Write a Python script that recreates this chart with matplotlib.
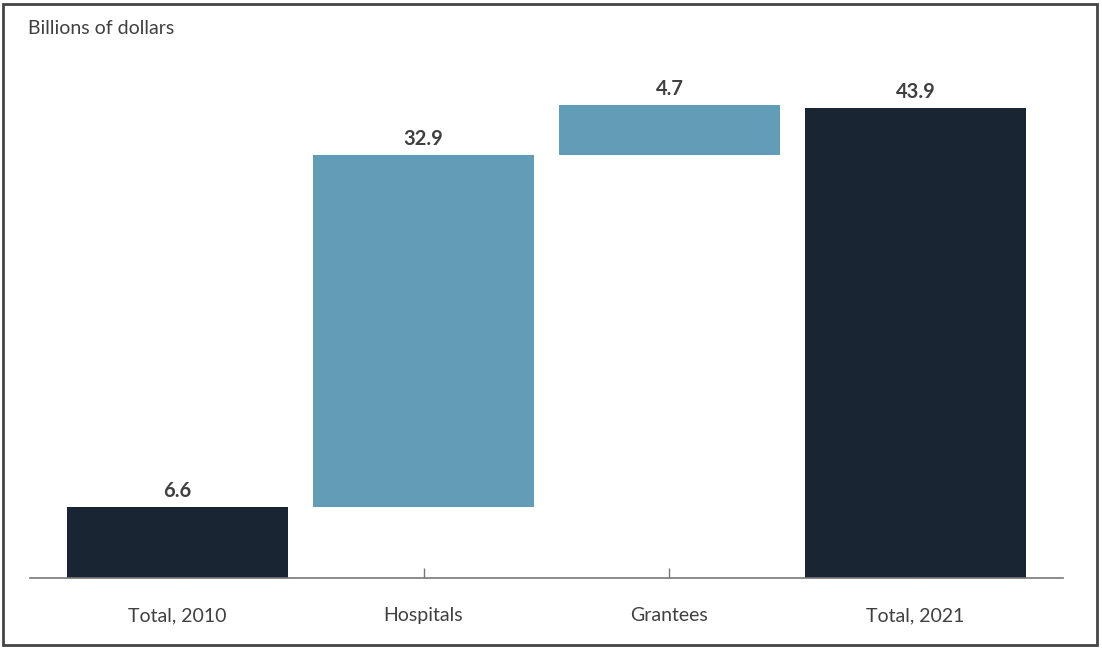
import matplotlib
matplotlib.use("Agg")
import matplotlib.pyplot as plt
from matplotlib.patches import Rectangle
import numpy as np

categories = ["Total, 2010", "Hospitals", "Grantees", "Total, 2021"]
values = [6.6, 32.9, 4.7, 43.9]
is_total = [True, False, False, True]
value_labels = ["6.6", "32.9", "4.7", "43.9"]

dark = "#1a2533"
blue = "#629db8"
text_col = "#404040"

plt.rcParams['font.family'] = ['Lato', 'DejaVu Sans']

fig = plt.figure(figsize=(11.02, 6.49), dpi=100)
ax = fig.add_axes([30/1102, 1-578/649, (1063-30)/1102, (578-60)/649])

bottoms = []
running = 0.0
for v, t in zip(values, is_total):
    if t:
        bottoms.append(0.0)
        running = v
    else:
        bottoms.append(running)
        running += v

x = np.arange(len(categories))
colors = [dark if t else blue for t in is_total]
ax.bar(x, values, bottom=bottoms, width=0.9, color=colors, zorder=3)

for xi, v, b, lab in zip(x, values, bottoms, value_labels):
    ax.text(xi, b + v + 0.6, lab, ha="center", va="bottom", fontsize=14.5,
            fontweight="bold", color=text_col)

ax.set_xlim(-0.6, 3.6)
ax.set_ylim(0, (578-60)/10.7)
ax.set_xticks(x)
ax.set_xticklabels(categories, fontsize=14, color=text_col)
ax.tick_params(axis="x", direction="in", length=7, width=1, color="#777777", pad=21)
ax.set_yticks([])
for s in ["top", "right", "left"]:
    ax.spines[s].set_visible(False)
ax.spines["bottom"].set_color("#777777")
ax.spines["bottom"].set_linewidth(1.2)
ax.spines["bottom"].set_zorder(4)

fig.text(28/1102, 1-29/649, "Billions of dollars", ha="left", va="center",
         fontsize=14, color=text_col)

fig.patches.append(Rectangle((3/1102, 4/649), 1094/1102, 641/649,
                             transform=fig.transFigure, fill=False,
                             edgecolor="#444444", linewidth=2))

fig.savefig("out.png", dpi=100)
